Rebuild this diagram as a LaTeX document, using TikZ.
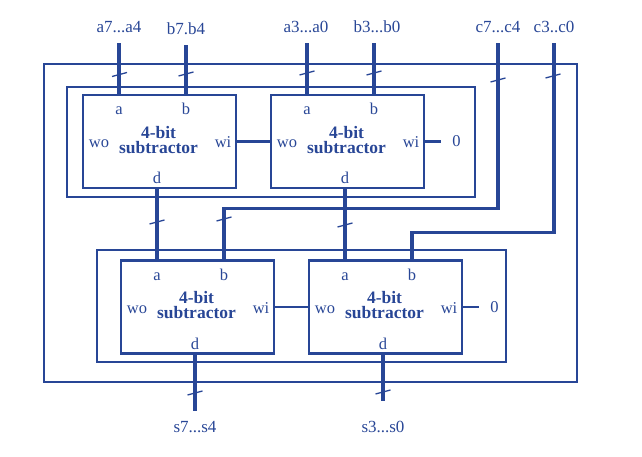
\documentclass[tikz,border=0pt]{standalone}
\usepackage{fontspec}
\setmainfont{Liberation Serif}
\usetikzlibrary{calc,positioning}
\definecolor{busblue}{RGB}{40,70,150}

% short slash that marks a 4-bit bus
\newcommand\busmark[1]{\draw[slash] ($(#1)+(-7.5,2)$) -- ($(#1)+(7.5,-2)$);}

\begin{document}
\begin{tikzpicture}[x=1pt,y=-1pt,
  wireline/.style={draw=busblue,line width=2.3pt},
  busline/.style={draw=busblue,line width=3.2pt},
  slash/.style={draw=busblue,line width=1.3pt},
  subbox/.style={draw=busblue,line width=2.3pt,minimum width=153pt,minimum height=93pt,inner sep=0pt},
  pinlbl/.style={text=busblue,font=\fontsize{16.5}{16.5}\selectfont,anchor=base,inner sep=0pt},
  titlelbl/.style={text=busblue,font=\bfseries\fontsize{17.5}{15}\selectfont,align=center,inner sep=0pt},
  iolbl/.style={text=busblue,font=\fontsize{17}{17}\selectfont,anchor=base,inner sep=10pt},
  zerolbl/.style={text=busblue,font=\fontsize{16.5}{16.5}\selectfont,inner sep=11pt}]
\useasboundingbox (0,0) rectangle (642,457);

% frames
\draw[wireline] (44,64) rectangle (577,382);
\draw[wireline] (67,87) rectangle (475,197);
\draw[wireline] (97,250) rectangle (506,362);

% the four subtractors
\foreach \n/\x/\y in {tl/159.5/141.5, tr/347.5/141.5, bl/197.5/307, br/385.5/307}{
  \node[subbox] (\n) at (\x,\y) {};
  \node[pinlbl] (\n-a) at (\x-40.5,\y-26.5) {a};
  \node[pinlbl] (\n-b) at (\x+26.5,\y-26.5) {b};
  \node[pinlbl] (\n-wo) at (\x-60.5,\y+6.5) {wo};
  \node[pinlbl] (\n-wi) at (\x+63.5,\y+6.5) {wi};
  \node[titlelbl] (\n-t) at (\x-1,\y-1.5) {4-bit\\subtractor};
  \node[pinlbl] (\n-d) at (\x-2.5,\y+42.5) {d};
  \coordinate (\n-ain) at (\x-40.5,\y-46.5);
  \coordinate (\n-bin) at (\x+26.5,\y-46.5);
  \coordinate (\n-dout) at (\x-2.5,\y+46.5);
}

% inputs
\node[iolbl] (ia7) at (119,33) {a7...a4};
\node[iolbl] (ib7) at (186,35) {b7.b4};
\node[iolbl] (ia3) at (306,33) {a3...a0};
\node[iolbl] (ib3) at (377,33) {b3...b0};
\node[iolbl] (ic7) at (498,33) {c7...c4};
\node[iolbl] (ic3) at (554,33) {c3..c0};
\draw[busline] (tl-ain |- ia7.south) -- (tl-ain);
\draw[busline] (tl-bin |- ib7.south) -- (tl-bin);
\draw[busline] (tr-ain |- ia3.south) -- (tr-ain);
\draw[busline] (tr-bin |- ib3.south) -- (tr-bin);
\draw[busline] (ic7.south) |- ([yshift=52pt]bl-bin) -- (bl-bin);
\draw[busline] (ic3.south) |- ([yshift=28pt]br-bin) -- (br-bin);

% between the stages
\draw[busline] (tl-dout) -- (bl-ain);
\draw[busline] (tr-dout) -- (br-ain);
\draw[wireline] (tl.east) -- (tr.west);
\draw[wireline] (bl.east) -- (br.west);
\node[zerolbl,right=16pt of tr.east] (z1) {0};
\node[zerolbl,right=16pt of br.east] (z2) {0};
\draw[wireline] (tr.east) -- (z1);
\draw[wireline] (br.east) -- (z2);

% outputs
\node[iolbl] (os7) at (195,432) {s7...s4};
\node[iolbl,inner sep=19pt] (os3) at (383,432) {s3...s0};
\draw[busline] (bl-dout) -- (os7);
\draw[busline] (br-dout) -- (os3);

% bus marks
\busmark{119.5,74.5}
\busmark{186,74}
\busmark{307,73}
\busmark{374,73}
\busmark{498,80}
\busmark{553,76}
\busmark{157,222}
\busmark{224,219}
\busmark{345,225}
\busmark{195,393}
\busmark{383,392}
\end{tikzpicture}
\end{document}
